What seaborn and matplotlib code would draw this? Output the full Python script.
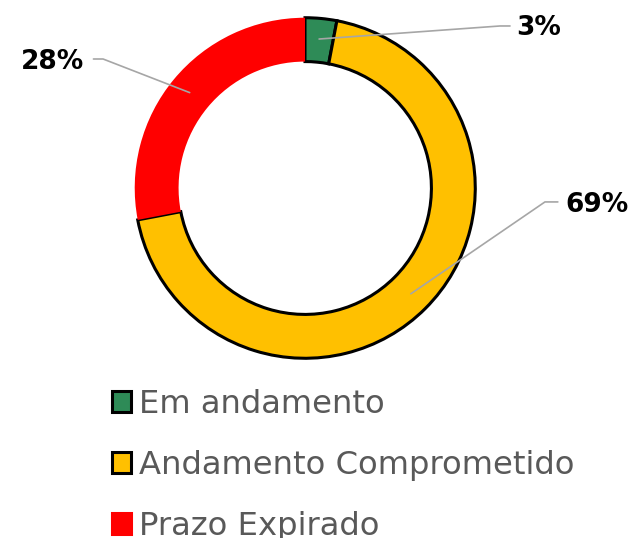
import numpy as np
import matplotlib.pyplot as plt
import seaborn as sns
from matplotlib.patches import Patch

# data
categories = ['Em andamento', 'Andamento Comprometido', 'Prazo Expirado']
shares = [3, 69, 28]
labels = ['3%', '69%', '28%']
colors = ['#2E8B57', '#FFC000', '#FF0000']
edges = ['black', 'black', 'none']

sns.set_theme(style='white')
plt.rcParams['font.family'] = ['DejaVu Sans']

W, H = 634, 538
fig = plt.figure(figsize=(W / 100, H / 100), dpi=100)
cx, cy, R = 305, 188, 172
ax = fig.add_axes([(cx - R) / W, (H - cy - R) / H, 2 * R / W, 2 * R / H])

wedges, _ = ax.pie(shares, colors=colors, startangle=90, counterclock=False,
                   radius=0.99, wedgeprops=dict(width=0.255))
for w, ec in zip(wedges, edges):
    w.set_edgecolor(ec)
    w.set_linewidth(2.2 if ec != 'none' else 0)
ax.set_xlim(-1, 1)
ax.set_ylim(-1, 1)
ax.set_aspect('equal')
ax.axis('off')

# leader lines and labels: (elbow point, end point, text pos, ha)
label_pos = [((1.134, 0.942), (1.192, 0.942), (1.23, 0.93), 'left'),
             ((1.395, -0.081), (1.47, -0.081), (1.515, -0.099), 'left'),
             ((-1.174, 0.75), (-1.23, 0.75), (-1.285, 0.733), 'right')]
cum = np.cumsum([0] + shares) / sum(shares)
for i, (elbow, end, tpos, ha) in enumerate(label_pos):
    mid = (cum[i] + cum[i + 1]) / 2
    ang = np.deg2rad(90 - mid * 360)
    r = 0.87
    p0 = (r * np.cos(ang), r * np.sin(ang))
    ax.plot([p0[0], elbow[0], end[0]], [p0[1], elbow[1], end[1]],
            color='#A6A6A6', lw=1.2, clip_on=False, zorder=5)
    ax.text(tpos[0], tpos[1], labels[i], ha=ha, va='center', fontsize=19,
            fontweight='bold', color='black', clip_on=False)

handles = [Patch(facecolor=c, edgecolor=('black' if e != 'none' else c), linewidth=2.2)
           for c, e in zip(colors, edges)]
leg = fig.legend(handles, categories, loc='upper left', bbox_to_anchor=(112 / W, 1 - 389 / H),
                 frameon=False, fontsize=23.2, handlelength=0.6, handleheight=0.6,
                 handletextpad=0.25, labelspacing=0.93, borderpad=0, borderaxespad=0)
for t in leg.get_texts():
    t.set_color('#595959')

fig.savefig('out.png', dpi=100)
